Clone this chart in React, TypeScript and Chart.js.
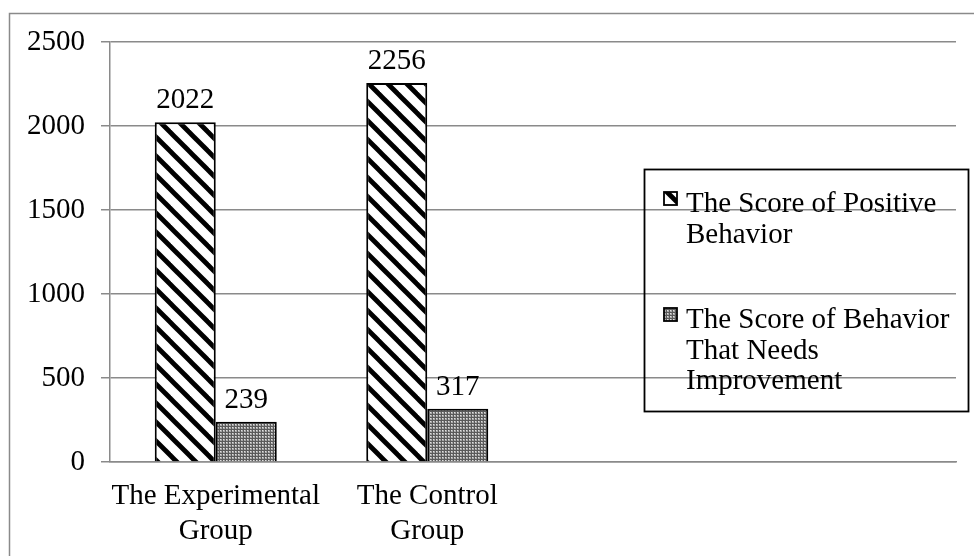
import React, { useEffect, useRef } from "react";
import { Chart, registerables } from "chart.js";

Chart.register(...registerables);

// ---- data ----
const categories: (string | string[])[] = [["The Experimental", "Group"], ["The Control", "Group"], "", ""];
const seriesNames = ["The Score of Positive Behavior", "The Score of Behavior That Needs Improvement"];
const positiveScores: (number | null)[] = [2022, 2256, null, null];
const improvementScores: (number | null)[] = [239, 317, null, null];
const yTicks = [0, 500, 1000, 1500, 2000, 2500];

const FONT = '"Liberation Serif", "Times New Roman", serif';
const GRID = "#8a8a8a";

function makeHatch(): CanvasPattern | string {
  const s = 19;
  const c = document.createElement("canvas");
  c.width = s;
  c.height = s;
  const g = c.getContext("2d");
  if (!g) return "#fff";
  g.fillStyle = "#fff";
  g.fillRect(0, 0, s, s);
  g.strokeStyle = "#000";
  g.lineWidth = 4.8;
  for (let k = -1; k <= 1; k++) {
    g.beginPath();
    g.moveTo(k * s - 3, -3);
    g.lineTo(k * s + s + 3, s + 3);
    g.stroke();
  }
  return g.createPattern(c, "repeat") || "#fff";
}

function makeDots(): CanvasPattern | string {
  const s = 3;
  const c = document.createElement("canvas");
  c.width = s;
  c.height = s;
  const g = c.getContext("2d");
  if (!g) return "#999";
  g.fillStyle = "#a8a8a8";
  g.fillRect(0, 0, s, s);
  g.fillStyle = "#5a5a5a";
  g.fillRect(0, 0, s, 1);
  g.fillRect(0, 0, 1, s);
  g.fillStyle = "#e0e0e0";
  g.fillRect(1, 1, 1, 1);
  return g.createPattern(c, "repeat") || "#999";
}

function wrap(ctx: CanvasRenderingContext2D, text: string, maxW: number): string[] {
  const words = text.split(" ");
  const lines: string[] = [];
  let cur = "";
  for (const w of words) {
    const t = cur ? cur + " " + w : w;
    if (ctx.measureText(t).width > maxW && cur) {
      lines.push(cur);
      cur = w;
    } else cur = t;
  }
  if (cur) lines.push(cur);
  return lines;
}

export default function App() {
  const ref = useRef<HTMLCanvasElement | null>(null);

  useEffect(() => {
    const canvas = ref.current;
    if (!canvas) return;
    const hatch = makeHatch();
    const dots = makeDots();
    const fills = [hatch, dots];

    const framePlugin = {
      id: "frame",
      beforeDraw(chart: any) {
        const ctx = chart.ctx;
        ctx.save();
        ctx.fillStyle = "#fff";
        ctx.fillRect(0, 0, chart.width, chart.height);
        ctx.strokeStyle = GRID;
        ctx.lineWidth = 1.5;
        ctx.beginPath();
        ctx.moveTo(9.5, chart.height + 5);
        ctx.lineTo(9.5, 13.5);
        ctx.lineTo(chart.width + 5, 13.5);
        ctx.stroke();
        ctx.restore();
      },
    };

    const labelPlugin = {
      id: "valueLabels",
      afterDatasetsDraw(chart: any) {
        const ctx = chart.ctx;
        ctx.save();
        ctx.font = `29px ${FONT}`;
        ctx.fillStyle = "#000";
        ctx.textAlign = "center";
        ctx.textBaseline = "alphabetic";
        chart.data.datasets.forEach((ds: any, i: number) => {
          const meta = chart.getDatasetMeta(i);
          meta.data.forEach((el: any, j: number) => {
            const v = ds.data[j];
            if (v == null) return;
            ctx.fillText(String(v), el.x, el.y - 14);
          });
        });
        ctx.restore();
      },
    };

    const legendPlugin = {
      id: "boxLegend",
      afterDraw(chart: any) {
        const ctx = chart.ctx;
        ctx.save();
        const bx = 644.5, by = 169.5, bw = 324, bh = 242;
        ctx.strokeStyle = "#000";
        ctx.lineWidth = 1.8;
        ctx.strokeRect(bx, by, bw, bh);
        ctx.font = `29px ${FONT}`;
        ctx.fillStyle = "#000";
        ctx.textAlign = "left";
        ctx.textBaseline = "alphabetic";
        const entryBaselines = [212, 328];
        const lh = 30.5;
        seriesNames.forEach((name, i) => {
          const base = entryBaselines[i];
          ctx.fillStyle = fills[i] as any;
          ctx.fillRect(664, base - 20, 13, 13);
          ctx.strokeStyle = "#000";
          ctx.lineWidth = 1.8;
          ctx.strokeRect(664, base - 20, 13, 13);
          ctx.fillStyle = "#000";
          const lines = wrap(ctx, name, 275);
          lines.forEach((ln, k) => ctx.fillText(ln, 686, base + k * lh));
        });
        ctx.restore();
      },
    };

    const chart = new Chart(canvas, {
      type: "bar",
      data: {
        labels: categories as any,
        datasets: [
          {
            label: seriesNames[0],
            data: positiveScores,
            backgroundColor: hatch as any,
            borderColor: "#000",
            borderWidth: 2,
            categoryPercentage: 0.577,
            barPercentage: 1,
          },
          {
            label: seriesNames[1],
            data: improvementScores,
            backgroundColor: dots as any,
            borderColor: "#000",
            borderWidth: 2,
            categoryPercentage: 0.577,
            barPercentage: 1,
          },
        ],
      },
      options: {
        responsive: false,
        animation: false,
        devicePixelRatio: 1,
        layout: { padding: { left: 0, right: 18, top: 42, bottom: 0 } },
        plugins: {
          legend: { display: false },
          tooltip: { enabled: false },
        },
        scales: {
          x: {
            offset: true,
            ticks: {
              font: { family: FONT, size: 29, lineHeight: 1.2 },
              color: "#000",
              padding: 17,
              maxRotation: 0,
              autoSkip: false,
            },
            grid: { display: false, drawTicks: false },
            border: { display: true, color: GRID, width: 1.5 },
            afterFit: (s: any) => {
              s.height = 94;
            },
          },
          y: {
            min: 0,
            max: 2500,
            afterBuildTicks: (s: any) => {
              s.ticks = yTicks.map((v) => ({ value: v }));
            },
            ticks: {
              font: { family: FONT, size: 29 },
              color: "#000",
              padding: 16,
              callback: (v: any) => String(v),
            },
            grid: { color: GRID, lineWidth: 1.5, tickLength: 9, drawTicks: true },
            border: { display: true, color: GRID, width: 1.5 },
            afterFit: (s: any) => {
              s.width = 110;
            },
          },
        },
      },
      plugins: [framePlugin, labelPlugin, legendPlugin],
    });

    return () => chart.destroy();
  }, []);

  return (
    <div style={{ position: "absolute", left: 0, top: 0, width: 974, height: 556, background: "#fff" }}>
      <canvas ref={ref} width={974} height={556} style={{ display: "block", width: 974, height: 556 }} />
    </div>
  );
}
